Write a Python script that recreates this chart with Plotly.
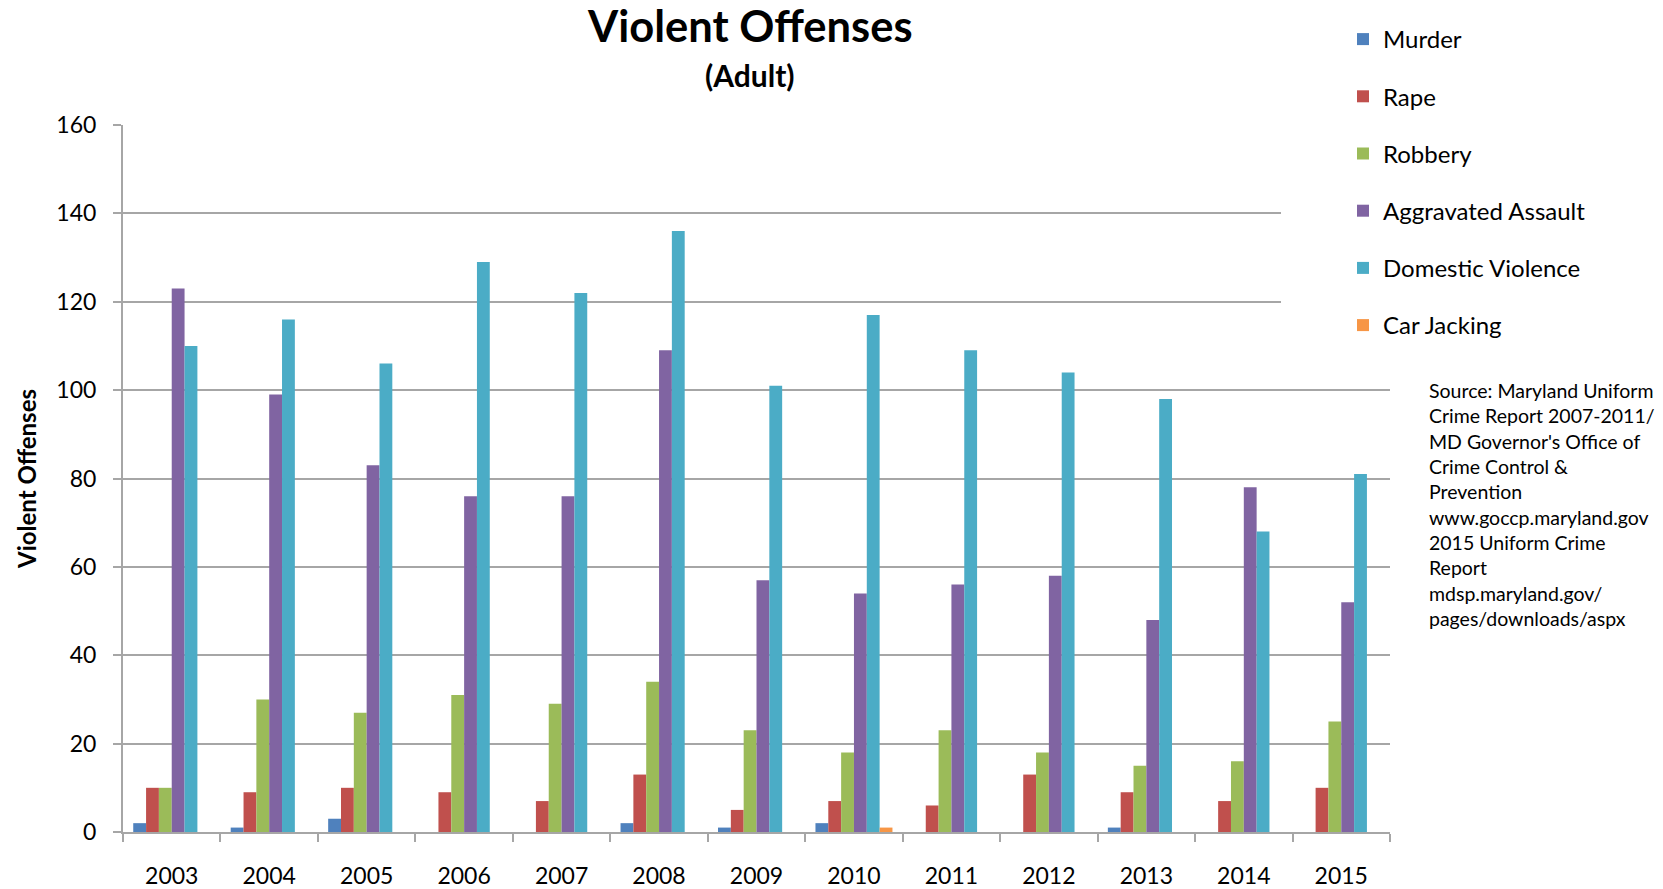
import plotly.graph_objects as go

years = ["2003", "2004", "2005", "2006", "2007", "2008", "2009",
         "2010", "2011", "2012", "2013", "2014", "2015"]
murder = [2, 1, 3, 0, 0, 2, 1, 2, 0, 0, 1, 0, 0]
rape = [10, 9, 10, 9, 7, 13, 5, 7, 6, 13, 9, 7, 10]
robbery = [10, 30, 27, 31, 29, 34, 23, 18, 23, 18, 15, 16, 25]
agg_assault = [123, 99, 83, 76, 76, 109, 57, 54, 56, 58, 48, 78, 52]
domestic = [110, 116, 106, 129, 122, 136, 101, 117, 109, 104, 98, 68, 81]
car_jacking = [0, 0, 0, 0, 0, 0, 0, 1, 0, 0, 0, 0, 0]

series_names = ["Murder", "Rape", "Robbery", "Aggravated Assault",
                "Domestic Violence", "Car Jacking"]
series_values = [murder, rape, robbery, agg_assault, domestic, car_jacking]
colors = ["#4F81BD", "#C0504D", "#9BBB59", "#8064A2", "#4BACC6", "#F79646"]

source_lines = ["Source: Maryland Uniform", "Crime Report 2007-2011/",
                "MD Governor's Office of", "Crime Control &", "Prevention",
                "www.goccp.maryland.gov", "2015 Uniform Crime", "Report",
                "mdsp.maryland.gov/", "pages/downloads/aspx"]

FONT = "Lato"
GRID = "#a6a6a6"

fig = go.Figure()
for name, vals, col in zip(series_names, series_values, colors):
    fig.add_trace(go.Bar(
        x=years, y=vals, name=name, legendgroup=name,
        marker=dict(color=col, line=dict(width=0)),
    ))

W, H = 1663, 889
L, R, T, B = 123, 1390, 125, 832


def px(xp):
    return (xp - L) / (R - L)


def py(yp):
    return (B - yp) / (B - T)


fig.update_layout(
    width=W, height=H,
    margin=dict(l=L, r=W - R, t=T, b=H - B, autoexpand=False),
    paper_bgcolor="white", plot_bgcolor="white",
    barmode="group", bargap=0.21, bargroupgap=0,
    font=dict(family=FONT, color="black", size=23),
    showlegend=True,
    legend=dict(
        xref="container", yref="container",
        x=1343 / W, y=1 - 17 / H, xanchor="left", yanchor="top",
        font=dict(family=FONT, size=24, color="black"),
        tracegroupgap=23, bgcolor="rgba(0,0,0,0)",
        itemclick=False,
    ),
    xaxis=dict(
        type="category", showgrid=False, showline=True, linecolor=GRID,
        linewidth=2, ticks="outside", tickson="boundaries", ticklen=8,
        tickcolor=GRID, tickwidth=2, ticklabelstandoff=22,
        tickfont=dict(family=FONT, size=23, color="black"),
    ),
    yaxis=dict(
        range=[0, 160], dtick=20, showgrid=True, gridcolor=GRID, gridwidth=1.5,
        showline=True, linecolor=GRID, linewidth=2, ticks="outside",
        ticklen=8, tickcolor=GRID, tickwidth=1.5, zeroline=False,
        ticklabelstandoff=12,
        tickfont=dict(family=FONT, size=23, color="black"),
        title=dict(text="<b>Violent Offenses</b>", standoff=13,
                   font=dict(family=FONT, size=24, color="black")),
    ),
)

# white legend background hiding the top gridlines behind the legend
fig.add_shape(
    type="rect", xref="paper", yref="paper", layer="above",
    x0=px(1281), x1=px(1400), y0=py(350), y1=py(110),
    fillcolor="white", line=dict(width=0),
)

fig.add_annotation(
    xref="paper", yref="paper", x=px(750), y=py(25),
    xanchor="center", yanchor="middle",
    text="<b>Violent Offenses</b>", showarrow=False,
    font=dict(family=FONT, size=43.5, color="black"),
)
fig.add_annotation(
    xref="paper", yref="paper", x=px(750), y=py(75),
    xanchor="center", yanchor="middle",
    text="<b>(Adult)</b>", showarrow=False,
    font=dict(family=FONT, size=30, color="black"),
)
fig.add_annotation(
    xref="paper", yref="paper", x=px(1427), y=py(377),
    xanchor="left", yanchor="top", align="left",
    text="<br>".join(source_lines), showarrow=False,
    font=dict(family=FONT, size=19.5, color="black"),
)

fig.write_html(
    "out.html",
    config={"displayModeBar": False},
    post_script="document.body.style.margin='0px';"
                "document.body.style.overflow='hidden';",
)
